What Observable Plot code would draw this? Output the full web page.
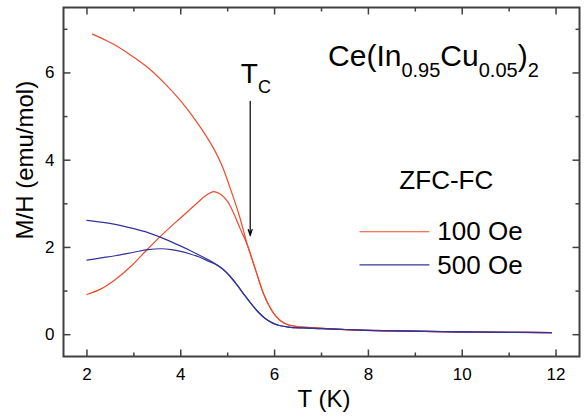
<!DOCTYPE html>
<html><head><meta charset="utf-8">
<script src="https://cdn.jsdelivr.net/npm/d3@7"></script>
<script src="https://cdn.jsdelivr.net/npm/@observablehq/plot@0.6"></script>
<style>body{margin:0;background:#fff}</style>
</head><body><div id="chart"></div>
<script>
// ---- data ----
const fields = ["100 Oe", "500 Oe"];
const fieldColors = ["#f04a2c", "#34349c"];

const fc100T  = [2.12, 2.34, 2.58, 2.93, 3.29, 3.63, 3.99, 4.35, 4.70, 4.88, 5.05, 5.25, 5.41, 5.62, 5.76, 5.9, 6.04, 6.2, 6.4, 6.8, 7.6, 8.5, 9.5, 10.5, 11.9];
const fc100M  = [6.89, 6.78, 6.65, 6.41, 6.13, 5.79, 5.37, 4.86, 4.27, 3.87, 3.37, 2.72, 2.10, 1.40, 0.95, 0.63, 0.41, 0.27, 0.20, 0.16, 0.11, 0.085, 0.07, 0.058, 0.045];
const zfc100T = [2.0, 2.3, 2.6, 2.95, 3.3, 3.65, 4.0, 4.35, 4.55, 4.7, 4.85, 5.0, 5.12, 5.27, 5.41, 5.62, 5.76, 5.9, 6.04, 6.2, 6.4, 6.8, 7.6, 8.5, 9.5, 10.5, 11.9];
const zfc100M = [0.92, 1.05, 1.26, 1.58, 1.97, 2.34, 2.68, 3.02, 3.20, 3.28, 3.22, 3.05, 2.80, 2.42, 2.08, 1.40, 0.95, 0.63, 0.41, 0.27, 0.20, 0.16, 0.11, 0.085, 0.07, 0.058, 0.045];
const fc500T  = [2.0, 2.3, 2.6, 3.0, 3.3, 3.6, 4.0, 4.2, 4.42, 4.6, 4.77, 4.9, 5.05, 5.2, 5.35, 5.5, 5.65, 5.8, 5.95, 6.1, 6.3, 6.6, 7.0, 8.0, 9.0, 10.0, 11.0, 11.9];
const fc500M  = [2.62, 2.58, 2.53, 2.43, 2.34, 2.22, 2.03, 1.93, 1.81, 1.71, 1.60, 1.50, 1.34, 1.14, 0.92, 0.71, 0.52, 0.37, 0.27, 0.21, 0.175, 0.155, 0.14, 0.10, 0.08, 0.065, 0.055, 0.045];
const zfc500T = [2.0, 2.3, 2.6, 3.0, 3.3, 3.6, 3.8, 4.0, 4.2, 4.42, 4.6, 4.77, 4.9, 5.05, 5.2, 5.35, 5.5, 5.65, 5.8, 5.95, 6.1, 6.3, 6.6, 7.0, 8.0, 9.0, 10.0, 11.0, 11.9];
const zfc500M = [1.71, 1.76, 1.81, 1.89, 1.95, 1.97, 1.95, 1.91, 1.85, 1.77, 1.68, 1.60, 1.50, 1.34, 1.14, 0.92, 0.71, 0.52, 0.37, 0.27, 0.21, 0.175, 0.155, 0.14, 0.10, 0.08, 0.065, 0.055, 0.045];

const xMajor = [2, 4, 6, 8, 10, 12];
const xMinor = [3, 5, 7, 9, 11];
const yMajor = [0, 2, 4, 6];
const yMinor = [1, 3, 5, 7];

// annotations (data coordinates)
const xLabel = "T (K)";
const yLabel = "M/H (emu/mol)";
const yLabelM = 4.0;
const formulaPieces = [["Ce(In", false], ["0.95", true], ["Cu", false], ["0.05", true], [")", false], ["2", true]];
const formulaAt = {T: 7.14, M: 6.16};
const tcPieces = [["T", false], ["C", true]];
const tcAt = {T: 5.28, M: 5.77};
const arrowT = 5.48, arrowFrom = 5.35, arrowTo = 2.27;
const legendTitle = "ZFC-FC";
const legendTitleAt = {T: 8.66, M: 3.34};
const legendLineT = [7.81, 9.30];
const legendLineM = [2.36, 1.60];
const legendTextT = 9.47;
const legendTextM = [2.17, 1.40];

// ---- build rows ----
const curves = [
  {id: "fc100", field: "100 Oe", T: fc100T, M: fc100M},
  {id: "zfc100", field: "100 Oe", T: zfc100T, M: zfc100M},
  {id: "fc500", field: "500 Oe", T: fc500T, M: fc500M},
  {id: "zfc500", field: "500 Oe", T: zfc500T, M: zfc500M}
];
const rows = curves.flatMap(c => c.T.map((t, i) => ({T: t, M: c.M[i], id: c.id, field: c.field})));
const legendRows = fields.map((f, i) => ({field: f, x1: legendLineT[0], x2: legendLineT[1], y: legendLineM[i], ty: legendTextM[i]}));

const W = 586, H = 416, mt = 7, mb = 60, ml = 63, mr = 7;
const fw = W - ml - mr, fh = H - mt - mb;
const xDomain = [1.5, 12.5], yDomain = [-0.5, 7.5];
const axisColor = "#404040";
const majorLen = 7, minorLen = 4;
const font = "'Liberation Sans', Arial, Helvetica, sans-serif";

// inward tick segments, lengths converted from pixels to data units
const xPerPx = (xDomain[1] - xDomain[0]) / fw;
const yPerPx = (yDomain[1] - yDomain[0]) / fh;
const tickSegs = [];
for (const [vals, len] of [[xMajor, majorLen], [xMinor, minorLen]]) {
  for (const v of vals) {
    tickSegs.push({x1: v, x2: v, y1: yDomain[0], y2: yDomain[0] + len * yPerPx});
    tickSegs.push({x1: v, x2: v, y1: yDomain[1], y2: yDomain[1] - len * yPerPx});
  }
}
for (const [vals, len] of [[yMajor, majorLen], [yMinor, minorLen]]) {
  for (const v of vals) {
    tickSegs.push({x1: xDomain[0], x2: xDomain[0] + len * xPerPx, y1: v, y2: v});
    tickSegs.push({x1: xDomain[1], x2: xDomain[1] - len * xPerPx, y1: v, y2: v});
  }
}

const chart = Plot.plot({
  width: W, height: H,
  marginTop: mt, marginBottom: mb, marginLeft: ml, marginRight: mr,
  style: {fontFamily: font, fontSize: "17px", color: "black", background: "white"},
  x: {domain: xDomain, ticks: xMajor, tickSize: 0, tickPadding: 11, label: null},
  y: {domain: yDomain, ticks: yMajor, tickSize: 0, tickPadding: 9, label: null},
  color: {domain: fields, range: fieldColors},
  marks: [
    Plot.line(rows, {x: "T", y: "M", z: "id", stroke: "field", strokeWidth: 1.2, curve: "catmull-rom"}),
    Plot.link(tickSegs, {x1: "x1", x2: "x2", y1: "y1", y2: "y2", stroke: axisColor, strokeWidth: 1.5}),
    Plot.frame({stroke: axisColor, strokeWidth: 2}),
    // axis labels
    Plot.text([xLabel], {x: () => (xDomain[0] + xDomain[1]) / 2, y: () => yDomain[0], dy: 43, dx: 2.5, textAnchor: "middle", fontSize: 24}),
    Plot.text([yLabel], {x: () => xDomain[0], y: () => yLabelM, textAnchor: "middle", rotate: -90, dx: -38, fontSize: 24}),
    // Tc arrow + label
    Plot.arrow([0], {x1: () => arrowT, x2: () => arrowT, y1: () => arrowFrom, y2: () => arrowTo, stroke: "black", strokeWidth: 1.2, headLength: 8, headAngle: 35}),
    Plot.text([tcPieces.map(p => p[0]).join("")], {x: () => tcAt.T, y: () => tcAt.M, textAnchor: "start", lineAnchor: "bottom", fontSize: 28}),
    // formula
    Plot.text([formulaPieces.map(p => p[0]).join("")], {x: () => formulaAt.T, y: () => formulaAt.M, textAnchor: "start", lineAnchor: "bottom", fontSize: 30}),
    // legend
    Plot.text([legendTitle], {x: () => legendTitleAt.T, y: () => legendTitleAt.M, textAnchor: "start", lineAnchor: "bottom", fontSize: 26}),
    Plot.link(legendRows, {x1: "x1", x2: "x2", y1: "y", y2: "y", stroke: "field", strokeWidth: 1.2}),
    Plot.text(legendRows, {x: () => legendTextT, y: "ty", text: "field", textAnchor: "start", lineAnchor: "bottom", fontSize: 26})
  ]
});

function subscript(svg, pieces, mainSize, subSize, shift) {
  const full = pieces.map(p => p[0]).join("");
  d3.select(svg).selectAll("text").filter(function() { return this.textContent === full; }).each(function() {
    const t = d3.select(this);
    t.text(null);
    let down = false;
    for (const [s, sub] of pieces) {
      const ts = t.append("tspan").text(s).attr("font-size", sub ? subSize : mainSize);
      if (sub && !down) { ts.attr("dy", shift); down = true; }
      else if (!sub && down) { ts.attr("dy", -shift); down = false; }
    }
  });
}
subscript(chart, formulaPieces, 30, 20, 11);
subscript(chart, tcPieces, 28, 18, 10);
d3.select(chart).selectAll("text").filter(function() { return this.textContent === yLabel; }).attr("text-anchor", "middle");

document.getElementById("chart").appendChild(chart);
</script>
</body></html>
